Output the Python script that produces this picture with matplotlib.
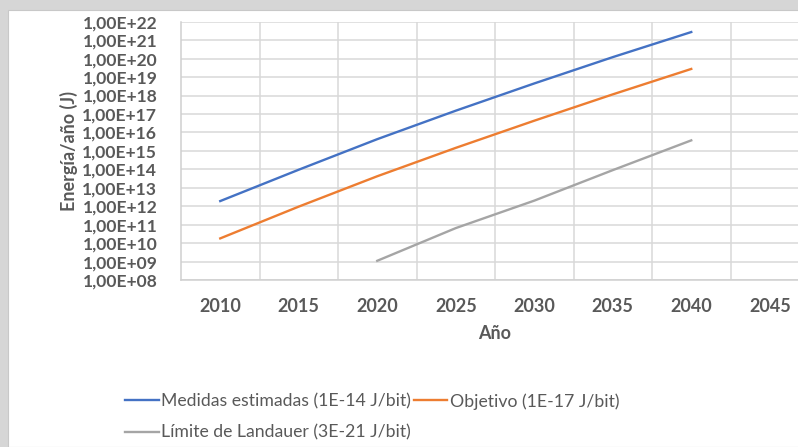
import numpy as np
import matplotlib.pyplot as plt
from matplotlib.patches import Rectangle
from matplotlib.ticker import FixedLocator, FuncFormatter

plt.rcParams['font.family'] = ['Lato', 'DejaVu Sans']

# datos
anios = [2010, 2015, 2020, 2025, 2030, 2035, 2040]
medidas = [1.9e12, 9.5e13, 4.3e15, 1.5e17, 4.5e18, 1.2e20, 2.75e21]
objetivo = [1.8e10, 9.5e11, 4.2e13, 1.45e15, 4.3e16, 1.15e18, 2.75e19]
anios_landauer = [2020, 2025, 2030, 2035, 2040]
landauer = [1.1e9, 6.5e10, 2.0e12, 9.0e13, 3.7e15]
xticks = [2010, 2015, 2020, 2025, 2030, 2035, 2040, 2045]

gris_txt = '#595959'
W, H = 798, 447
fig = plt.figure(figsize=(W / 100, H / 100), dpi=100)
fig.patch.set_facecolor('#d6d6d6')
fondo = Rectangle((8 / W, 0), 1, 1 - 10 / H, transform=fig.transFigure,
                  facecolor='white', edgecolor='#c8c8c8', lw=0.8, zorder=-5)
fig.patches.append(fondo)

x0, x1 = 181 / W, 809 / W
y0, y1 = 1 - 280 / H, 1 - 21.7 / H
ax = fig.add_axes([x0, y0, x1 - x0, y1 - y0])
ax.set_facecolor('white')

lw = 1.7
ax.plot(anios, medidas, color='#4472C4', linewidth=lw, label='Medidas estimadas (1E-14 J/bit)')
ax.plot(anios_landauer, landauer, color='#A5A5A5', linewidth=lw, label='Límite de Landauer (3E-21 J/bit)')
ax.plot(anios, objetivo, color='#ED7D31', linewidth=lw, label='Objetivo (1E-17 J/bit)')

ax.set_yscale('log')
ax.set_ylim(1e8, 1e22)
ax.set_xlim(2007.5, 2047.5)

ax.yaxis.set_major_locator(FixedLocator([10.0 ** k for k in range(8, 23)]))
ax.yaxis.set_minor_locator(FixedLocator([]))
ax.yaxis.set_major_formatter(FuncFormatter(lambda v, p: '1,00E+%02d' % round(np.log10(v))))
ax.set_xticks(xticks)
ax.set_xticks([2012.5 + 5 * k for k in range(7)], minor=True)
ax.tick_params(axis='both', which='both', length=0, colors=gris_txt)
ax.tick_params(axis='y', labelsize=12.6, pad=17)
ax.tick_params(axis='x', labelsize=13, pad=13)
for t in ax.get_xticklabels() + ax.get_yticklabels():
    t.set_fontweight('bold')

ax.grid(True, which='major', axis='y', color='#d9d9d9', linewidth=1.1)
ax.grid(True, which='minor', axis='x', color='#d9d9d9', linewidth=1.1)
ax.set_axisbelow(True)
for s in ['top', 'right']:
    ax.spines[s].set_visible(False)
for s in ['left', 'bottom']:
    ax.spines[s].set_color('#d0d0d0')
    ax.spines[s].set_linewidth(1.1)

ax.set_xlabel('Año', fontsize=13, fontweight='bold', color=gris_txt, labelpad=7)
ax.set_ylabel('Energía/año (J)', fontsize=13, fontweight='bold', color=gris_txt, labelpad=3)

leg = fig.legend(loc='upper left', bbox_to_anchor=(118 / W, 1 - 386 / H), ncol=2, frameon=False,
                 fontsize=12.7, handlelength=1.9, handletextpad=0.15, columnspacing=0.15,
                 labelspacing=0.85, borderaxespad=0)
for t in leg.get_texts():
    t.set_color(gris_txt)

fig.savefig('out.png', dpi=100)
